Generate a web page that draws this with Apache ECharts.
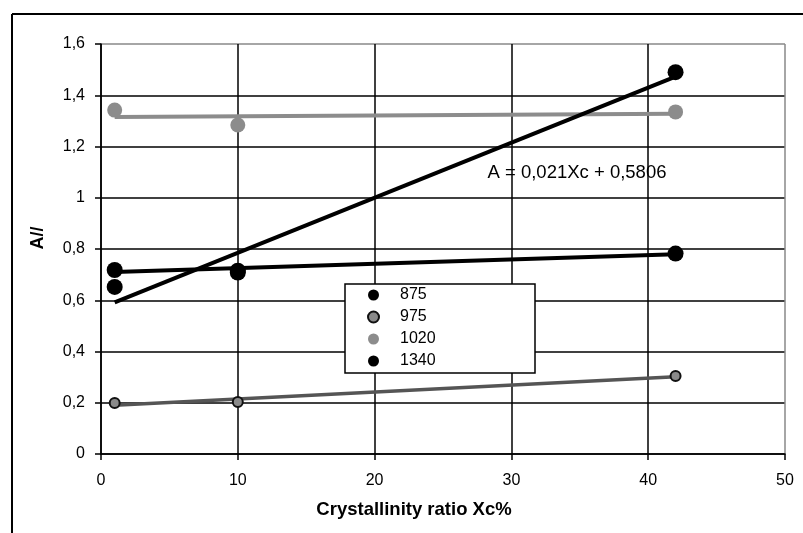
<!DOCTYPE html>
<html>
<head>
<meta charset="utf-8">
<script src="https://cdn.jsdelivr.net/npm/echarts@6/dist/echarts.min.js"></script>
<style>
html,body{margin:0;padding:0;background:#fff;}
#c{width:803px;height:533px;}
</style>
</head>
<body>
<div id="c"></div>
<script>
// ---- data ----
var xValues = [1, 10, 42];
var s875  = [0.718, 0.715, 0.782];
var s975  = [0.199, 0.203, 0.304];
var s1020 = [1.342, 1.284, 1.335];
var s1340 = [0.652, 0.708, 1.490];
var seriesNames = ['875', '975', '1020', '1340'];
var equationText = 'A = 0,021Xc + 0,5806';
var xTitle = 'Crystallinity ratio Xc%';
var yTitle = 'A//';

function pts(ys){ return xValues.map(function(x,i){ return [x, ys[i]]; }); }
function trend(ys){
  var n = xValues.length, mx = 0, my = 0;
  for (var i=0;i<n;i++){ mx += xValues[i]; my += ys[i]; }
  mx/=n; my/=n;
  var sxx=0, sxy=0;
  for (var j=0;j<n;j++){ sxx += (xValues[j]-mx)*(xValues[j]-mx); sxy += (xValues[j]-mx)*(ys[j]-my); }
  var b = sxy/sxx, a = my - b*mx;
  var x0 = Math.min.apply(null, xValues), x1 = Math.max.apply(null, xValues);
  return [[x0, a + b*x0], [x1, a + b*x1]];
}
function fmt(v){ return String(Number(v.toFixed(1))).replace('.', ','); }

var FONT = 'Liberation Sans, Arial, sans-serif';
var chart = echarts.init(document.getElementById('c'), null, {renderer:'canvas'});

var styles = {
  '875':  {color:'#000', size:16, line:'#000', lw:4},
  '975':  {color:'#8a8a8a', border:'#111', bw:2, size:10, line:'#555', lw:3.5},
  '1020': {color:'#8c8c8c', size:15, line:'#8c8c8c', lw:4},
  '1340': {color:'#000', size:16, line:'#000', lw:4}
};
var dataMap = {'875': s875, '975': s975, '1020': s1020, '1340': s1340};

var series = [];
seriesNames.forEach(function(nm){
  var st = styles[nm];
  series.push({
    type:'line', data: trend(dataMap[nm]), showSymbol:false, symbol:'none',
    lineStyle:{color:st.line, width:st.lw}, silent:true, z:2, animation:false
  });
});
seriesNames.forEach(function(nm){
  var st = styles[nm];
  series.push({
    name: nm, type:'scatter', data: pts(dataMap[nm]), symbol:'circle', symbolSize: st.size,
    itemStyle:{color:st.color, borderColor: st.border || st.color, borderWidth: st.bw || 0, opacity:1},
    z:3, animation:false
  });
});

var option = {
  animation:false,
  backgroundColor:'#fff',
  grid:{left:101, right:18, top:44, bottom:79},
  xAxis:{
    type:'value', min:0, max:50, interval:10,
    axisLine:{show:true, lineStyle:{color:'#000', width:1.5}},
    axisTick:{show:true, inside:false, length:6, lineStyle:{color:'#000', width:1.5}},
    axisLabel:{color:'#000', fontFamily:FONT, fontSize:16, margin:19, formatter:fmt},
    splitLine:{show:true, lineStyle:{color:['#000','#000','#000','#000','#000','#888'], width:1.5}}
  },
  yAxis:{
    type:'value', min:0, max:1.6, interval:0.2,
    axisLine:{show:true, lineStyle:{color:'#000', width:1.5}},
    axisTick:{show:true, inside:false, length:6, lineStyle:{color:'#000', width:1.5}},
    axisLabel:{color:'#000', fontFamily:FONT, fontSize:16, margin:16, formatter:fmt},
    splitLine:{show:true, lineStyle:{color:['#000','#000','#000','#000','#000','#000','#000','#000','#888'], width:1.5}}
  },
  legend:{
    show:true, orient:'vertical', left:367, top:287, itemWidth:11, itemHeight:11, itemGap:6,
    symbolKeepAspect:true, padding:0, z:10,
    textStyle:{color:'#000', fontFamily:FONT, fontSize:16, padding:[0,0,0,16]},
    data: seriesNames.map(function(nm){ return {name:nm, icon:'circle'}; })
  },
  graphic:[
    {type:'line', shape:{x1:12, y1:14, x2:12, y2:533}, style:{stroke:'#000', lineWidth:2}},
    {type:'line', shape:{x1:12, y1:14, x2:803, y2:14}, style:{stroke:'#000', lineWidth:2}},
    {type:'rect', shape:{x:345, y:284, width:190, height:89}, style:{fill:'#fff', stroke:'#000', lineWidth:1.5}, z:5},
    {type:'text', x:577, y:173, style:{text:equationText, font:'18.5px '+FONT, fill:'#000', textAlign:'center', textVerticalAlign:'middle'}, z:6},
    {type:'text', x:414, y:510, style:{text:xTitle, font:'bold 18.5px '+FONT, fill:'#000', textAlign:'center', textVerticalAlign:'middle'}, z:6},
    {type:'text', x:38, y:238, rotation:Math.PI/2, style:{text:yTitle, font:'bold 18px '+FONT, fill:'#000', textAlign:'center', textVerticalAlign:'middle'}, z:6}
  ],
  series: series
};
chart.setOption(option);
</script>
</body>
</html>
